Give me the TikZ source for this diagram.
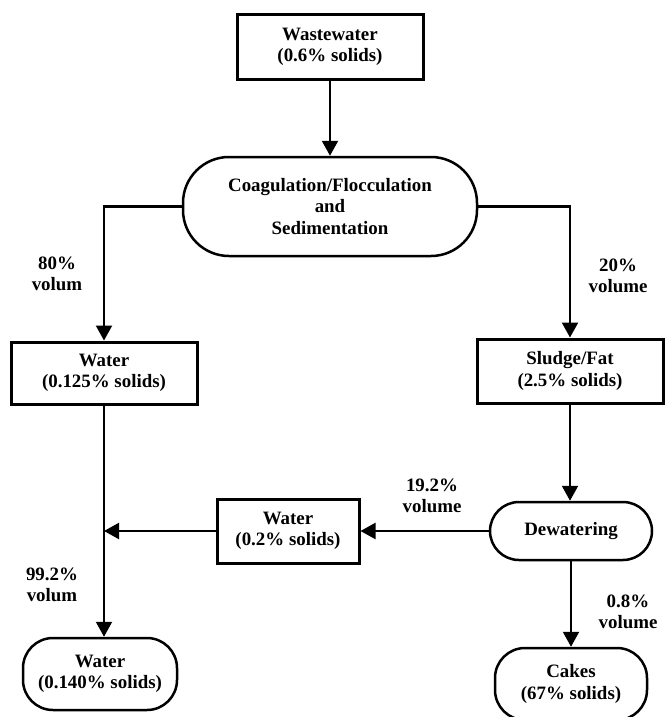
\documentclass[tikz,border=0pt]{standalone}
\usepackage{fontspec}
\setmainfont{Liberation Serif}
\usetikzlibrary{arrows.meta}
\tikzset{
  every node/.style={font=\bfseries\fontsize{18.9pt}{21.5pt}\selectfont, align=center, inner sep=0pt},
  boxnode/.style={draw, line width=3pt, rectangle},
  roundnode/.style={draw, line width=2.5pt, rectangle},
  flow/.style={line width=2.2pt, -{Triangle[width=16pt,length=15pt]}},
  lbl/.style={}
}
\begin{document}
\begin{tikzpicture}[x=1pt,y=-1pt]
\useasboundingbox (0,0) rectangle (664,717);
\node[boxnode, minimum width=186pt, minimum height=64pt] (ww) at (330,47) {Wastewater\\(0.6\% solids)};
\node[roundnode, rounded corners=46pt, minimum width=294pt, minimum height=99pt] (coag) at (330,206.5) {Coagulation/Flocculation\\and\\Sedimentation};
\node[boxnode, minimum width=186pt, minimum height=62pt] (w1) at (104,373) {Water\\(0.125\% solids)};
\node[boxnode, minimum width=186pt, minimum height=64pt] (sl) at (570,371) {Sludge/Fat\\(2.5\% solids)};
\node[roundnode, rounded corners=29pt, minimum width=162pt, minimum height=58pt] (dew) at (571,531) {Dewatering};
\node[boxnode, minimum width=142pt, minimum height=64pt] (w2) at (288,531) {Water\\(0.2\% solids)};
\node[roundnode, rounded corners=30pt, minimum width=154pt, minimum height=72pt] (wf) at (100,674) {Water\\(0.140\% solids)};
\node[roundnode, rounded corners=30pt, minimum width=152pt, minimum height=72pt] (ck) at (571,684) {Cakes\\(67\% solids)};
\coordinate (j) at (104,531);

\node[lbl] (l80) at (57,274) {80\%\\volum};
\node[lbl] (l20) at (618,276) {20\%\\volume};
\node[lbl] (l19) at (432,496) {19.2\%\\volume};
\node[lbl] (l99) at (52,585) {99.2\%\\volum};
\node[lbl] (l08) at (628,612) {0.8\%\\volume};

\draw[flow] (ww.south) -- (coag.north);
\draw[flow] (coag.west) -| (w1.north);
\draw[flow] (coag.east) -| (sl.north);
\draw[flow] (sl.south) -- (sl.south |- dew.north);
\draw[flow] (dew.west) -- (w2.east);
\draw[flow] (w2.west) -- (j);
\draw[flow] (w1.south) -- (w1.south |- wf.north);
\draw[flow] (dew.south) -- (ck.north);
\end{tikzpicture}
\end{document}
